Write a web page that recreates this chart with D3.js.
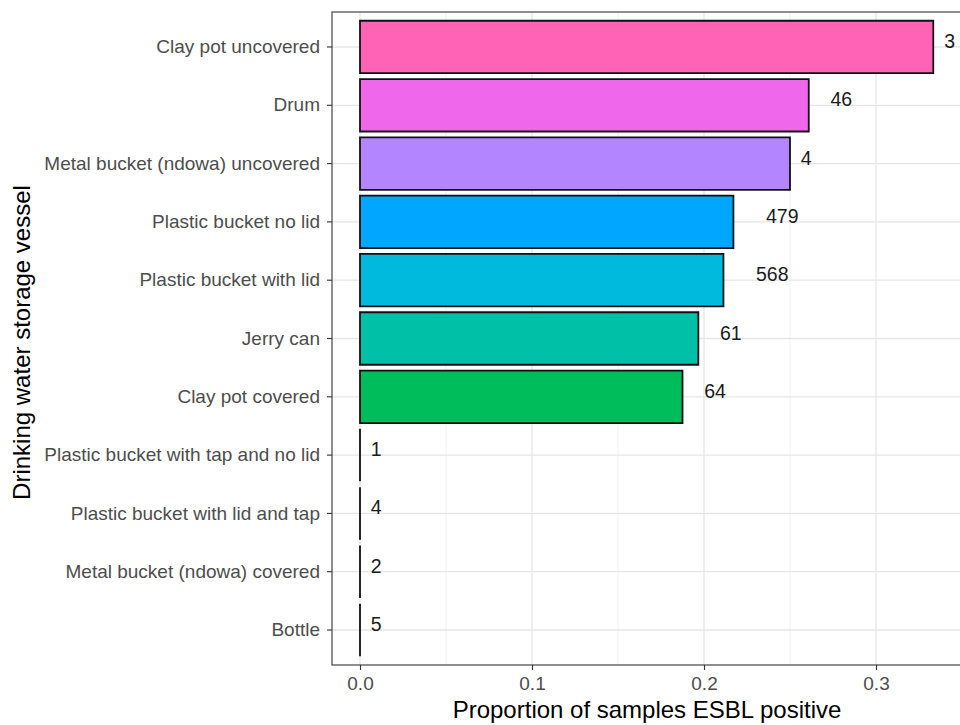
<!DOCTYPE html>
<html>
<head>
<meta charset="utf-8">
<script src="https://cdn.jsdelivr.net/npm/d3@7"></script>
<style>
  html, body { margin: 0; padding: 0; background: #fff; }
  svg { display: block; font-family: "Liberation Sans", Arial, Helvetica, sans-serif; }
</style>
</head>
<body>
<svg id="chart" width="960" height="725"></svg>
<script>
// Storage vessels, top to bottom
const vessels = [
  "Clay pot uncovered",
  "Drum",
  "Metal bucket (ndowa) uncovered",
  "Plastic bucket no lid",
  "Plastic bucket with lid",
  "Jerry can",
  "Clay pot covered",
  "Plastic bucket with tap and no lid",
  "Plastic bucket with lid and tap",
  "Metal bucket (ndowa) covered",
  "Bottle"
];
// Proportion of samples that were ESBL positive
const proportions = [0.3333, 0.2609, 0.25, 0.2171, 0.2113, 0.1967, 0.1875, 0, 0, 0, 0];
// Number of samples per vessel (printed next to each bar)
const sampleCounts = [3, 46, 4, 479, 568, 61, 64, 1, 4, 2, 5];
// Fill colours per vessel (ggplot hue palette order)
const fills = ["#FF63B6", "#EF67EB", "#B385FF", "#00A6FF", "#00BADE", "#00C1A7",
               "#00BD5C", "#64B200", "#AEA200", "#DB8E00", "#F8766D"];
const xTicks = [0, 0.1, 0.2, 0.3];
const xMinor = [0.05, 0.15, 0.25, 0.35];

const svg = d3.select("#chart");
const panel = { left: 332, right: 962, top: 12, bottom: 665 };

const x = d3.scaleLinear().domain([-0.01628, 0.35]).range([panel.left, panel.right]);
// discrete axis with 0.6 band-steps of space at either end
const y = d3.scaleBand()
  .domain(vessels)
  .range([panel.top, panel.bottom])
  .paddingInner(0.1).paddingOuter(0.15);

const g = svg.append("g");

// panel background
g.append("rect").attr("x", panel.left).attr("y", panel.top)
  .attr("width", panel.right - panel.left).attr("height", panel.bottom - panel.top)
  .attr("fill", "#fff");

// minor grid
g.selectAll(".minor").data(xMinor).join("line")
  .attr("x1", d => x(d)).attr("x2", d => x(d))
  .attr("y1", panel.top).attr("y2", panel.bottom)
  .attr("stroke", "#F2F2F2").attr("stroke-width", 1);
// major grid
g.selectAll(".majx").data(xTicks).join("line")
  .attr("x1", d => x(d)).attr("x2", d => x(d))
  .attr("y1", panel.top).attr("y2", panel.bottom)
  .attr("stroke", "#E6E6E6").attr("stroke-width", 1.3);
g.selectAll(".majy").data(vessels).join("line")
  .attr("x1", panel.left).attr("x2", panel.right)
  .attr("y1", d => y(d) + y.bandwidth() / 2).attr("y2", d => y(d) + y.bandwidth() / 2)
  .attr("stroke", "#E6E6E6").attr("stroke-width", 1.3);

// bars as closed paths so zero-width bars still show their outline
g.selectAll(".bar").data(vessels).join("path")
  .attr("d", (d, i) => {
    const x0 = x(0), w = x(proportions[i]) - x(0), y0 = y(d), h = y.bandwidth();
    return `M${x0},${y0}h${w}v${h}h${-w}Z`;
  })
  .attr("fill", (d, i) => fills[i])
  .attr("stroke", "#111")
  .attr("stroke-width", 1.8);

// sample count labels, shifted right by one text width
const labels = g.selectAll(".lbl").data(vessels).join("text")
  .attr("y", d => y(d) + y.bandwidth() / 2 + 1)
  .attr("font-size", 19.5)
  .attr("fill", "#1a1a1a")
  .text((d, i) => sampleCounts[i]);
labels.each(function(d, i) {
  const w = this.getComputedTextLength();
  d3.select(this).attr("x", x(proportions[i]) + w);
});

// panel border
g.append("rect").attr("x", panel.left).attr("y", panel.top)
  .attr("width", panel.right - panel.left).attr("height", panel.bottom - panel.top)
  .attr("fill", "none").attr("stroke", "#333").attr("stroke-width", 1.1);

// axes
const xAxis = d3.axisBottom(x).tickValues(xTicks).tickFormat(d3.format(".1f"))
  .tickSize(5).tickPadding(7);
const gx = svg.append("g").attr("transform", `translate(0,${panel.bottom})`).call(xAxis);
gx.select(".domain").remove();
gx.selectAll("line").attr("stroke", "#333").attr("stroke-width", 1.1);
gx.selectAll("text").attr("font-size", 19).attr("fill", "#4D4D4D")
  .attr("font-family", "Liberation Sans, Arial, sans-serif");

const yAxis = d3.axisLeft(y).tickSize(5).tickPadding(7);
const gy = svg.append("g").attr("transform", `translate(${panel.left},0)`).call(yAxis);
gy.select(".domain").remove();
gy.selectAll("line").attr("stroke", "#333").attr("stroke-width", 1.1);
gy.selectAll("text").attr("font-size", 19).attr("fill", "#4D4D4D")
  .attr("font-family", "Liberation Sans, Arial, sans-serif");

// axis titles
svg.append("text")
  .attr("x", 647).attr("y", 718)
  .attr("text-anchor", "middle")
  .attr("font-size", 24).attr("fill", "#000")
  .text("Proportion of samples ESBL positive");
svg.append("text")
  .attr("transform", `translate(30,${(panel.top + panel.bottom) / 2 + 4}) rotate(-90)`)
  .attr("text-anchor", "middle")
  .attr("font-size", 24).attr("fill", "#000")
  .text("Drinking water storage vessel");
</script>
</body>
</html>
